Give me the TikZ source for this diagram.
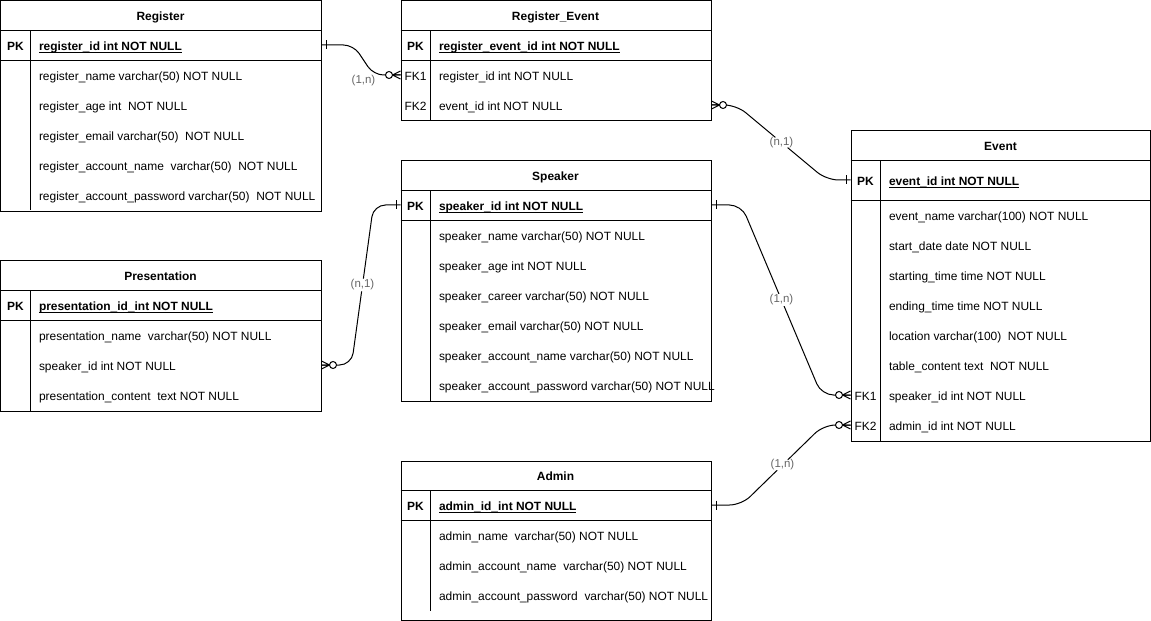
\documentclass[tikz,border=0pt]{standalone}
\usepackage{fontspec}
\setmainfont{Liberation Sans}
\usetikzlibrary{calc}
\definecolor{lblgray}{HTML}{666666}
\newcommand{\pkul}[1]{\setbox0=\hbox{#1}\hbox{\rlap{\vrule width \wd0 height -1pt depth 2pt}\box0}}
\begin{document}
\begin{tikzpicture}[x=1bp,y=-1bp, line width=1bp,
  tbl/.style={draw, line width=1bp, inner sep=0pt, anchor=north west},
  txt/.style={font=\fontsize{12}{14}\selectfont, inner xsep=0pt, inner ysep=0pt, text height=11.7pt, text depth=0pt, anchor=west},
  hdr/.style={txt, font=\fontsize{12}{14}\selectfont\bfseries, anchor=center},
  key/.style={txt, anchor=center},
  pkey/.style={txt, font=\fontsize{12}{14}\selectfont\bfseries, anchor=center},
  fld/.style={txt},
  pkfld/.style={txt, font=\fontsize{12}{14}\selectfont\bfseries},
  lbl/.style={font=\fontsize{11.5}{13}\selectfont, text=lblgray, fill=white, inner sep=1pt},
  lblnf/.style={font=\fontsize{11.5}{13}\selectfont, text=lblgray, inner sep=1pt},
  conn/.style={draw, line width=1bp, rounded corners=12bp},
  erone/.pic={\draw[line width=1bp] (4.5,-4.5) -- (4.5,4.5);},
  ermany/.pic={\draw[line width=1bp] (0,-4) -- (8,0) -- (0,4) (0,0) -- (8,0);
               \draw[line width=1bp, fill=white] (11.5,0) circle (3.5bp);}
]
\useasboundingbox (0,0) rectangle (1151,621);

% ---------- Register ----------
\node[tbl, minimum width=320bp, minimum height=210bp] (reg) at (0.5,0.5) {};
\draw (0.5,30.5) -- (320.5,30.5);
\draw (0.5,60.5) -- (320.5,60.5);
\draw (30.5,30.5) -- (30.5,210.5);
\node[hdr] (reg-h) at (160.5,15) {Register};
\node[pkey] (reg-pkk) at (15.5,45) {PK};
\node[pkfld] (reg-pk) at (38.5,45) {\pkul{register\_id int NOT NULL}};
\node[fld] (reg-f1) at (38.5,75) {register\_name varchar(50) NOT NULL};
\node[fld] (reg-f2) at (38.5,105) {register\_age int~ NOT NULL};
\node[fld] (reg-f3) at (38.5,135) {register\_email varchar(50)~ NOT NULL};
\node[fld] (reg-f4) at (38.5,165) {register\_account\_name~ varchar(50)~ NOT NULL};
\node[fld] (reg-f5) at (38.5,195) {register\_account\_password varchar(50)~ NOT NULL};

% ---------- Register_Event ----------
\node[tbl, minimum width=310bp, minimum height=120bp] (re) at (400.5,0.5) {};
\draw (400.5,30.5) -- (710.5,30.5);
\draw (400.5,60.5) -- (710.5,60.5);
\draw (430.5,30.5) -- (430.5,120.5);
\node[hdr] (re-h) at (555.5,15) {Register\_Event};
\node[pkey] (re-pkk) at (415.5,45) {PK};
\node[pkfld] (re-pk) at (438.5,45) {\pkul{register\_event\_id int NOT NULL}};
\node[key] (re-k1) at (415.5,75) {FK1};
\node[fld] (re-f1) at (438.5,75) {register\_id int NOT NULL};
\node[key] (re-k2) at (415.5,105) {FK2};
\node[fld] (re-f2) at (438.5,105) {event\_id int NOT NULL};

% ---------- Speaker ----------
\node[tbl, minimum width=310bp, minimum height=240bp] (sp) at (400.5,160.5) {};
\draw (400.5,190.5) -- (710.5,190.5);
\draw (400.5,220.5) -- (710.5,220.5);
\draw (430.5,190.5) -- (430.5,400.5);
\node[hdr] (sp-h) at (555.5,175) {Speaker};
\node[pkey] (sp-pkk) at (415.5,205) {PK};
\node[pkfld] (sp-pk) at (438.5,205) {\pkul{speaker\_id int NOT NULL}};
\node[fld] (sp-f1) at (438.5,235) {speaker\_name varchar(50) NOT NULL};
\node[fld] (sp-f2) at (438.5,265) {speaker\_age int NOT NULL};
\node[fld] (sp-f3) at (438.5,295) {speaker\_career varchar(50) NOT NULL};
\node[fld] (sp-f4) at (438.5,325) {speaker\_email varchar(50) NOT NULL};
\node[fld] (sp-f5) at (438.5,355) {speaker\_account\_name varchar(50) NOT NULL};
\node[fld] (sp-f6) at (438.5,385) {speaker\_account\_password varchar(50) NOT NULL};

% ---------- Presentation ----------
\node[tbl, minimum width=320bp, minimum height=150bp] (pr) at (0.5,260.5) {};
\draw (0.5,290.5) -- (320.5,290.5);
\draw (0.5,320.5) -- (320.5,320.5);
\draw (30.5,290.5) -- (30.5,410.5);
\node[hdr] (pr-h) at (160.5,275) {Presentation};
\node[pkey] (pr-pkk) at (15.5,305) {PK};
\node[pkfld] (pr-pk) at (38.5,305) {\pkul{presentation\_id\_int NOT NULL}};
\node[fld] (pr-f1) at (38.5,335) {presentation\_name~ varchar(50) NOT NULL};
\node[fld] (pr-f2) at (38.5,365) {speaker\_id int NOT NULL};
\node[fld] (pr-f3) at (38.5,395) {presentation\_content~ text NOT NULL};

% ---------- Event ----------
\node[tbl, minimum width=299.2bp, minimum height=310bp] (ev) at (850.5,130.5) {};
\draw (850.5,160.5) -- (1149.7,160.5);
\draw (850.5,200.5) -- (1149.7,200.5);
\draw (880.5,160.5) -- (880.5,440.5);
\node[hdr] (ev-h) at (1000.5,145) {Event};
\node[pkey] (ev-pkk) at (865.5,180) {PK};
\node[pkfld] (ev-pk) at (888.5,180) {\pkul{event\_id int NOT NULL}};
\node[fld] (ev-f1) at (888.5,215) {event\_name varchar(100) NOT NULL};
\node[fld] (ev-f2) at (888.5,245) {start\_date date NOT NULL};
\node[fld] (ev-f3) at (888.5,275) {starting\_time time NOT NULL};
\node[fld] (ev-f4) at (888.5,305) {ending\_time time NOT NULL};
\node[fld] (ev-f5) at (888.5,335) {location varchar(100)~ NOT NULL};
\node[fld] (ev-f6) at (888.5,365) {table\_content text~ NOT NULL};
\node[key] (ev-k7) at (865.5,395) {FK1};
\node[fld] (ev-f7) at (888.5,395) {speaker\_id int NOT NULL};
\node[key] (ev-k8) at (865.5,425) {FK2};
\node[fld] (ev-f8) at (888.5,425) {admin\_id int NOT NULL};

% ---------- Admin ----------
\node[tbl, minimum width=310bp, minimum height=159.2bp] (ad) at (400.5,460.5) {};
\draw (400.5,490.5) -- (710.5,490.5);
\draw (400.5,520.5) -- (710.5,520.5);
\draw (430.5,490.5) -- (430.5,610.5);
\node[hdr] (ad-h) at (555.5,475) {Admin};
\node[pkey] (ad-pkk) at (415.5,505) {PK};
\node[pkfld] (ad-pk) at (438.5,505) {\pkul{admin\_id\_int NOT NULL}};
\node[fld] (ad-f1) at (438.5,535) {admin\_name~ varchar(50) NOT NULL};
\node[fld] (ad-f2) at (438.5,565) {admin\_account\_name~ varchar(50) NOT NULL};
\node[fld] (ad-f3) at (438.5,595) {admin\_account\_password~ varchar(50) NOT NULL};

% ---------- Connectors ----------
% Register -> Register_Event
\path[conn, rounded corners=10bp] (reg.east |- reg-pk) -- ++(32,0) -- ++(20,30) -- (re.west |- re-f1);
\node[lblnf] (l1) at ($(re.west |- re-f1)+(-37,6)$) {(1,n)};
\pic at (reg.east |- reg-pk) {erone};
\pic[xscale=-1] at (re.west |- re-f1) {ermany};

% Register_Event -> Event
\path[conn] (re.east |- re-f2) -- ++(25,0) -- node[lbl] (l2) {(n,1)} ++(90,75) -- (ev.west |- ev-pk);
\pic at (re.east |- re-f2) {ermany};
\pic[xscale=-1] at (ev.west |- ev-pk) {erone};

% Presentation -> Speaker
\path[conn] (pr.east |- pr-f2) -- ++(30,0) -- node[lbl] (l3) {(n,1)} ++(22,-160) -- (sp.west |- sp-pk);
\pic at (pr.east |- pr-f2) {ermany};
\pic[xscale=-1] at (sp.west |- sp-pk) {erone};

% Speaker -> Event
\path[conn] (sp.east |- sp-pk) -- ++(30,0) -- node[lbl] (l4) {(1,n)} ++(80,190) -- (ev.west |- ev-f7);
\pic at (sp.east |- sp-pk) {erone};
\pic[xscale=-1] at (ev.west |- ev-f7) {ermany};

% Admin -> Event
\path[conn] (ad.east |- ad-pk) -- ++(30,0) -- node[lbl] (l5) {(1,n)} ++(82,-80) -- (ev.west |- ev-f8);
\pic at (ad.east |- ad-pk) {erone};
\pic[xscale=-1] at (ev.west |- ev-f8) {ermany};
\end{tikzpicture}
\end{document}
